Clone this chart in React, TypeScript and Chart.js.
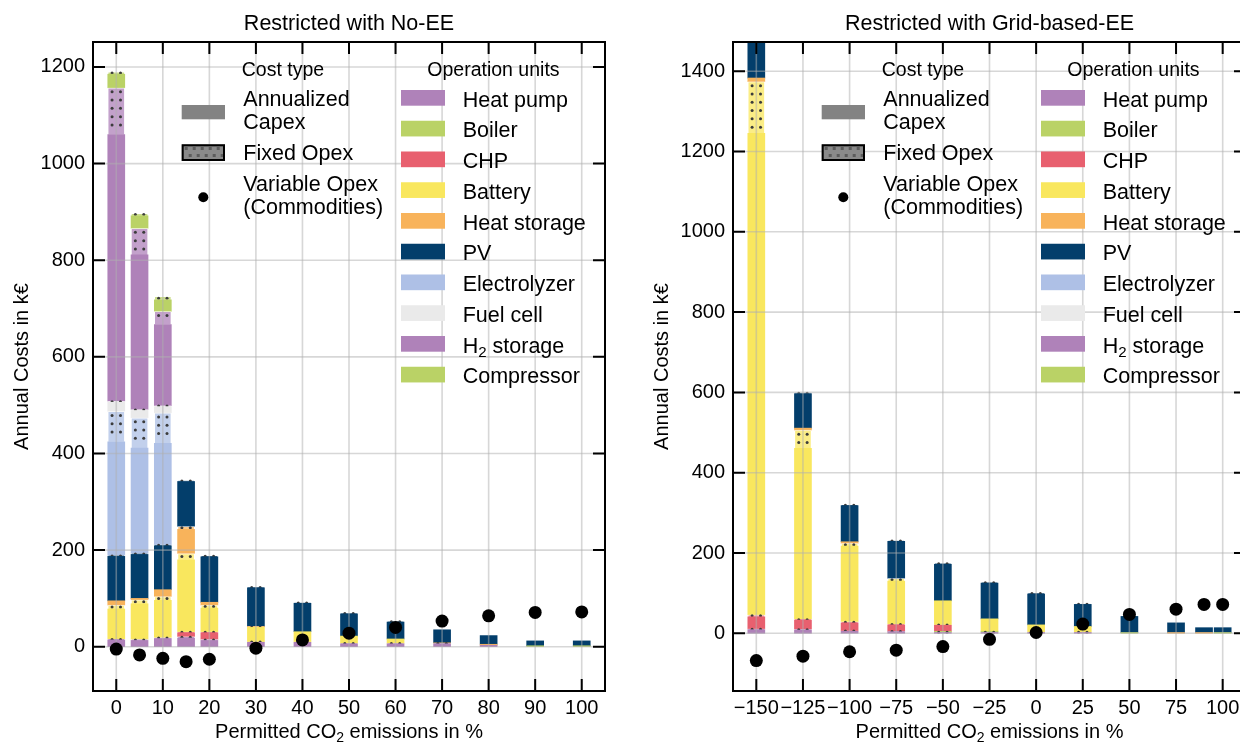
import React, { useEffect, useRef } from 'react';
import { Chart, registerables } from 'chart.js';

Chart.register(...registerables);

const FONT = '"Liberation Sans", Arial, Helvetica, sans-serif';

const UNIT_NAMES = ['Heat pump', 'Boiler', 'CHP', 'Battery', 'Heat storage', 'PV', 'Electrolyzer', 'Fuel cell', 'H2 storage', 'Compressor'];
const UNIT_COLORS = ['#AF82B9', '#BAD266', '#E8606F', '#F9E75E', '#F8B35B', '#033E6B', '#AEC0E6', '#EAEAEA', '#AF82B9', '#BAD266'];

// ---------------- Panel 1: Restricted with No-EE ----------------
const NOEE_X = [0, 5, 10, 15, 20, 30, 40, 50, 60, 70, 80, 90, 100];
const NOEE_X_TICKS = [0, 10, 20, 30, 40, 50, 60, 70, 80, 90, 100];
const NOEE_Y_TICKS = [0, 200, 400, 600, 800, 1000, 1200];
// Annualized Capex (k€)
const NOEE_CAPEX_HEAT_PUMP = [14, 13, 17, 18, 13, 9, 9, 6, 6, 6, 3, 0, 0];
const NOEE_CAPEX_BOILER = [0, 0, 0, 0, 0, 0, 0, 0, 0, 0, 0, 2, 2];
const NOEE_CAPEX_CHP = [0, 0, 0, 8, 14, 0, 0, 0, 0, 0, 0, 0, 0];
const NOEE_CAPEX_BATTERY = [62, 74, 77, 149, 49, 30, 21, 15, 9, 0, 0, 0, 0];
const NOEE_CAPEX_HEAT_STORAGE = [9, 3, 14, 50, 6, 1, 0, 0, 0, 1, 2, 0, 0];
const NOEE_CAPEX_PV = [92, 91, 91, 93, 94, 80, 59, 46, 35, 27, 18, 10, 10];
const NOEE_CAPEX_ELECTROLYZER = [235, 218, 210, 0, 0, 0, 0, 0, 0, 0, 0, 0, 0];
const NOEE_CAPEX_FUEL_CELL = [19, 15, 13, 0, 0, 0, 0, 0, 0, 0, 0, 0, 0];
const NOEE_CAPEX_H2_STORAGE = [552, 320, 168, 0, 0, 0, 0, 0, 0, 0, 0, 0, 0];
const NOEE_CAPEX_COMPRESSOR = [28, 26, 24, 0, 0, 0, 0, 0, 0, 0, 0, 0, 0];
// Fixed Opex (k€)
const NOEE_FIX_HEAT_PUMP = [2, 2, 2, 3, 2, 1, 1, 1, 1, 1, 0, 0, 0];
const NOEE_FIX_BOILER = [0, 0, 0, 0, 0, 0, 0, 0, 0, 0, 0, 0, 0];
const NOEE_FIX_CHP = [0, 0, 0, 2, 2, 0, 0, 0, 0, 0, 0, 0, 0];
const NOEE_FIX_BATTERY = [8, 8, 8, 13, 6, 1, 0, 0, 0, 0, 0, 0, 0];
const NOEE_FIX_HEAT_STORAGE = [0, 0, 0, 6, 0, 0, 0, 0, 0, 0, 0, 0, 0];
const NOEE_FIX_PV = [2, 2, 2, 2, 2, 1, 1, 1, 1, 0, 0, 0, 0];
const NOEE_FIX_ELECTROLYZER = [63, 63, 63, 0, 0, 0, 0, 0, 0, 0, 0, 0, 0];
const NOEE_FIX_FUEL_CELL = [2, 2, 2, 0, 0, 0, 0, 0, 0, 0, 0, 0, 0];
const NOEE_FIX_H2_STORAGE = [97, 55, 27, 0, 0, 0, 0, 0, 0, 0, 0, 0, 0];
const NOEE_FIX_COMPRESSOR = [5, 5, 7, 0, 0, 0, 0, 0, 0, 0, 0, 0, 0];
// Variable Opex (Commodities)
const NOEE_VAR_OPEX = [-5, -17, -24, -31, -26, -3, 14, 28, 40, 53, 64, 71, 72];

// ---------------- Panel 2: Restricted with Grid-based-EE ----------------
const GRID_X = [-150, -125, -100, -75, -50, -25, 0, 25, 50, 75, 90, 100];
const GRID_X_TICKS = [-150, -125, -100, -75, -50, -25, 0, 25, 50, 75, 100];
const GRID_Y_TICKS = [0, 200, 400, 600, 800, 1000, 1200, 1400];
// Annualized Capex (k€)
const GRID_CAPEX_HEAT_PUMP = [9, 8, 5, 4, 2, 2, 2, 2, 0, 0, 0, 0];
const GRID_CAPEX_BOILER = [0, 0, 0, 0, 2, 2, 0, 0, 2, 0, 0, 2];
const GRID_CAPEX_CHP = [30, 23, 20, 16, 15, 0, 0, 0, 0, 0, 0, 0];
const GRID_CAPEX_BATTERY = [1199, 426, 188, 107, 60, 31, 18, 14, 0, 0, 0, 0];
const GRID_CAPEX_HEAT_STORAGE = [9, 5, 4, 0, 0, 0, 0, 0, 0, 2, 2, 0];
const GRID_CAPEX_PV = [110, 86, 90, 92, 91, 89, 77, 55, 40, 24, 12, 12];
const GRID_CAPEX_ELECTROLYZER = [0, 0, 0, 0, 0, 0, 0, 0, 0, 0, 0, 0];
const GRID_CAPEX_FUEL_CELL = [0, 0, 0, 0, 0, 0, 0, 0, 0, 0, 0, 0];
const GRID_CAPEX_H2_STORAGE = [0, 0, 0, 0, 0, 0, 0, 0, 0, 0, 0, 0];
const GRID_CAPEX_COMPRESSOR = [0, 0, 0, 0, 0, 0, 0, 0, 0, 0, 0, 0];
// Fixed Opex (k€)
const GRID_FIX_HEAT_PUMP = [2, 2, 1, 1, 1, 1, 1, 1, 0, 0, 0, 0];
const GRID_FIX_BOILER = [0, 0, 0, 0, 0, 0, 0, 0, 0, 0, 0, 0];
const GRID_FIX_CHP = [5, 2, 3, 2, 1, 0, 0, 0, 0, 0, 0, 0];
const GRID_FIX_BATTERY = [129, 45, 7, 7, 0, 0, 0, 0, 0, 0, 0, 0];
const GRID_FIX_HEAT_STORAGE = [0, 0, 0, 0, 0, 0, 0, 0, 0, 0, 0, 0];
const GRID_FIX_PV = [2, 2, 2, 2, 2, 2, 2, 1, 1, 0, 0, 0];
const GRID_FIX_ELECTROLYZER = [0, 0, 0, 0, 0, 0, 0, 0, 0, 0, 0, 0];
const GRID_FIX_FUEL_CELL = [0, 0, 0, 0, 0, 0, 0, 0, 0, 0, 0, 0];
const GRID_FIX_H2_STORAGE = [0, 0, 0, 0, 0, 0, 0, 0, 0, 0, 0, 0];
const GRID_FIX_COMPRESSOR = [0, 0, 0, 0, 0, 0, 0, 0, 0, 0, 0, 0];
// Variable Opex (Commodities)
const GRID_VAR_OPEX = [-68, -57, -46, -42, -33, -15, 2, 23, 47, 60, 72, 72];

type PanelCfg = {
  key: string;
  title: string;
  xs: number[];
  xTicks: number[];
  yTicks: number[];
  capex: number[][];
  fix: number[][];
  dots: number[];
  xMin: number;
  xMax: number;
  yMin: number;
  yMax: number;
  canvasW: number;
  areaLeft: number;
  areaRight: number;
};

const AREA_TOP = 42;
const AREA_BOTTOM = 691;
const CANVAS_H = 742;

const NOEE_PANEL: PanelCfg = {
  key: 'noee',
  title: 'Restricted with No-EE',
  xs: NOEE_X,
  xTicks: NOEE_X_TICKS,
  yTicks: NOEE_Y_TICKS,
  capex: [NOEE_CAPEX_HEAT_PUMP, NOEE_CAPEX_BOILER, NOEE_CAPEX_CHP, NOEE_CAPEX_BATTERY, NOEE_CAPEX_HEAT_STORAGE, NOEE_CAPEX_PV, NOEE_CAPEX_ELECTROLYZER, NOEE_CAPEX_FUEL_CELL, NOEE_CAPEX_H2_STORAGE, NOEE_CAPEX_COMPRESSOR],
  fix: [NOEE_FIX_HEAT_PUMP, NOEE_FIX_BOILER, NOEE_FIX_CHP, NOEE_FIX_BATTERY, NOEE_FIX_HEAT_STORAGE, NOEE_FIX_PV, NOEE_FIX_ELECTROLYZER, NOEE_FIX_FUEL_CELL, NOEE_FIX_H2_STORAGE, NOEE_FIX_COMPRESSOR],
  dots: NOEE_VAR_OPEX,
  xMin: -5,
  xMax: 105,
  yMin: -91.7,
  yMax: 1251.7,
  canvasW: 620,
  areaLeft: 93,
  areaRight: 605,
};

const GRID_PANEL: PanelCfg = {
  key: 'grid',
  title: 'Restricted with Grid-based-EE',
  xs: GRID_X,
  xTicks: GRID_X_TICKS,
  yTicks: GRID_Y_TICKS,
  capex: [GRID_CAPEX_HEAT_PUMP, GRID_CAPEX_BOILER, GRID_CAPEX_CHP, GRID_CAPEX_BATTERY, GRID_CAPEX_HEAT_STORAGE, GRID_CAPEX_PV, GRID_CAPEX_ELECTROLYZER, GRID_CAPEX_FUEL_CELL, GRID_CAPEX_H2_STORAGE, GRID_CAPEX_COMPRESSOR],
  fix: [GRID_FIX_HEAT_PUMP, GRID_FIX_BOILER, GRID_FIX_CHP, GRID_FIX_BATTERY, GRID_FIX_HEAT_STORAGE, GRID_FIX_PV, GRID_FIX_ELECTROLYZER, GRID_FIX_FUEL_CELL, GRID_FIX_H2_STORAGE, GRID_FIX_COMPRESSOR],
  dots: GRID_VAR_OPEX,
  xMin: -162.5,
  xMax: 112.5,
  yMin: -143.7,
  yMax: 1472.7,
  canvasW: 640,
  areaLeft: 113,
  areaRight: 626,
};

function mix(hex: string, f: number) {
  const n = parseInt(hex.slice(1), 16);
  const r = (n >> 16) & 255, g = (n >> 8) & 255, b = n & 255;
  const m = (c: number) => Math.round(c + (255 - c) * f);
  return `rgb(${m(r)},${m(g)},${m(b)})`;
}

function fmtTick(v: number) {
  return v < 0 ? '\u2212' + Math.abs(v) : String(v);
}

function drawParts(ctx: CanvasRenderingContext2D, parts: { t: string; sub?: boolean }[], x: number, y: number, size: number, align: 'left' | 'center') {
  const widths = parts.map((p) => {
    ctx.font = `${p.sub ? size * 0.7 : size}px ${FONT}`;
    return ctx.measureText(p.t).width;
  });
  const total = widths.reduce((a, b) => a + b, 0);
  let cx = align === 'center' ? x - total / 2 : x;
  ctx.textAlign = 'left';
  ctx.textBaseline = 'alphabetic';
  parts.forEach((p, i) => {
    ctx.font = `${p.sub ? size * 0.7 : size}px ${FONT}`;
    ctx.fillText(p.t, cx, p.sub ? y + size * 0.22 : y);
    cx += widths[i];
  });
}

function makePlugin(p: PanelCfg, dotIndex: number) {
  return {
    id: 'custom_' + p.key,
    afterDatasetDraw(chart: any, args: any) {
      const ds = chart.data.datasets[args.index];
      if (!ds.isFix) return;
      const ctx: CanvasRenderingContext2D = chart.ctx;
      const a = chart.chartArea;
      ctx.save();
      ctx.beginPath();
      ctx.rect(a.left, a.top, a.right - a.left, a.bottom - a.top);
      ctx.clip();
      ctx.fillStyle = '#3c3c3c';
      args.meta.data.forEach((el: any, i: number) => {
        if (ds.data[i].y == null) return;
        const top = Math.min(el.y, el.base);
        const bot = Math.max(el.y, el.base);
        const h = bot - top;
        const rows: number[] = [];
        if (h < 8) rows.push(top + h / 2);
        else for (let yy = top + 4; yy < bot - 2; yy += 8.3) rows.push(yy);
        rows.forEach((yy) => {
          [el.x - 4.2, el.x + 4.2].forEach((xx) => {
            ctx.beginPath();
            ctx.arc(xx, yy, 1.5, 0, Math.PI * 2);
            ctx.fill();
          });
        });
      });
      ctx.restore();
    },
    beforeDatasetDraw(chart: any, args: any) {
      if (args.index !== dotIndex) return;
      const ctx: CanvasRenderingContext2D = chart.ctx;
      const a = chart.chartArea;
      const xs = chart.scales.x, ys = chart.scales.y;
      ctx.save();
      ctx.beginPath();
      ctx.rect(a.left, a.top, a.right - a.left, a.bottom - a.top);
      ctx.clip();
      ctx.strokeStyle = 'rgba(176,176,176,0.5)';
      ctx.lineWidth = 1.6;
      p.xTicks.forEach((v) => {
        const px = xs.getPixelForValue(v);
        ctx.beginPath();
        ctx.moveTo(px, a.top);
        ctx.lineTo(px, a.bottom);
        ctx.stroke();
      });
      p.yTicks.forEach((v) => {
        const py = ys.getPixelForValue(v);
        ctx.beginPath();
        ctx.moveTo(a.left, py);
        ctx.lineTo(a.right, py);
        ctx.stroke();
      });
      ctx.restore();
    },
    afterDraw(chart: any) {
      const ctx: CanvasRenderingContext2D = chart.ctx;
      const a = chart.chartArea;
      const xs = chart.scales.x, ys = chart.scales.y;
      ctx.save();
      // spines
      ctx.strokeStyle = '#000';
      ctx.lineWidth = 2;
      ctx.strokeRect(a.left, a.top, a.right - a.left, a.bottom - a.top);
      // inward ticks on all four sides
      p.xTicks.forEach((v) => {
        const px = xs.getPixelForValue(v);
        ctx.beginPath();
        ctx.moveTo(px, a.bottom);
        ctx.lineTo(px, a.bottom - 12);
        ctx.moveTo(px, a.top);
        ctx.lineTo(px, a.top + 12);
        ctx.stroke();
      });
      p.yTicks.forEach((v) => {
        const py = ys.getPixelForValue(v);
        ctx.beginPath();
        ctx.moveTo(a.left, py);
        ctx.lineTo(a.left + 12, py);
        ctx.moveTo(a.right, py);
        ctx.lineTo(a.right - 12, py);
        ctx.stroke();
      });
      ctx.fillStyle = '#000';
      const cx = (a.left + a.right) / 2;
      // title
      drawParts(ctx, [{ t: p.title }], cx, 30, 21.5, 'center');
      // x label
      drawParts(ctx, [{ t: 'Permitted CO' }, { t: '2', sub: true }, { t: ' emissions in %' }], cx, 738, 20, 'center');
      // y label
      ctx.save();
      ctx.translate(a.left - 71, (a.top + a.bottom) / 2);
      ctx.rotate(-Math.PI / 2);
      ctx.font = `20px ${FONT}`;
      ctx.textAlign = 'center';
      ctx.textBaseline = 'middle';
      ctx.fillText('Annual Costs in k\u20AC', 0, 0);
      ctx.restore();

      // ---------- legend ----------
      const L = a.left;
      ctx.fillStyle = '#000';
      drawParts(ctx, [{ t: 'Cost type' }], L + 148.7, 75.7, 19.5, 'left');
      drawParts(ctx, [{ t: 'Operation units' }], L + 334.3, 75.7, 19.5, 'left');
      // Annualized Capex
      ctx.fillStyle = '#838383';
      ctx.fillRect(L + 88.7, 105, 43.3, 14.3);
      ctx.fillStyle = '#000';
      drawParts(ctx, [{ t: 'Annualized' }], L + 150.3, 106, 21.5, 'left');
      drawParts(ctx, [{ t: 'Capex' }], L + 150.3, 129, 21.5, 'left');
      // Fixed Opex
      ctx.fillStyle = '#8a8a8a';
      ctx.fillRect(L + 88.7, 144.3, 43.3, 16.7);
      ctx.fillStyle = '#5c5c5c';
      for (let dx = 3; dx < 42; dx += 8) {
        ctx.fillRect(L + 88.7 + dx, 147, 3, 3);
        ctx.fillRect(L + 88.7 + dx + 4, 154, 3, 3);
      }
      ctx.strokeStyle = '#000';
      ctx.lineWidth = 2;
      ctx.strokeRect(L + 89.7, 145.3, 41.3, 14.7);
      ctx.fillStyle = '#000';
      drawParts(ctx, [{ t: 'Fixed Opex' }], L + 150.3, 160, 21.5, 'left');
      // Variable Opex
      ctx.beginPath();
      ctx.arc(L + 110.3, 197.3, 5, 0, Math.PI * 2);
      ctx.fill();
      drawParts(ctx, [{ t: 'Variable Opex' }], L + 150.3, 191, 21.5, 'left');
      drawParts(ctx, [{ t: '(Commodities)' }], L + 150.3, 214.3, 21.5, 'left');
      // Operation units
      UNIT_NAMES.forEach((name, i) => {
        const base = 106.7 + 30.75 * i;
        ctx.fillStyle = UNIT_COLORS[i];
        ctx.fillRect(L + 308, base - 16.7, 44, 15.7);
        ctx.fillStyle = '#000';
        if (name === 'H2 storage') {
          drawParts(ctx, [{ t: 'H' }, { t: '2', sub: true }, { t: ' storage' }], L + 369.7, base, 21.5, 'left');
        } else {
          drawParts(ctx, [{ t: name }], L + 369.7, base, 21.5, 'left');
        }
      });
      ctx.restore();
    },
  };
}

function buildChart(canvas: HTMLCanvasElement, p: PanelCfg) {
  const datasets: any[] = [];
  UNIT_NAMES.forEach((name, u) => {
    datasets.push({
      type: 'bar',
      label: name + ' (Annualized Capex)',
      data: p.xs.map((x, i) => ({ x, y: p.capex[u][i] ? p.capex[u][i] : null })),
      backgroundColor: UNIT_COLORS[u],
      borderWidth: 0,
      barThickness: 17,
      order: 1,
    });
    datasets.push({
      type: 'bar',
      label: name + ' (Fixed Opex)',
      data: p.xs.map((x, i) => ({ x, y: p.fix[u][i] ? p.fix[u][i] : null })),
      backgroundColor: mix(UNIT_COLORS[u], 0.25),
      borderColor: 'rgba(255,255,255,0.45)',
      borderWidth: 1,
      barThickness: 17,
      order: 1,
      isFix: true,
    });
  });
  const dotIndex = datasets.length;
  datasets.push({
    type: 'scatter',
    label: 'Variable Opex (Commodities)',
    data: p.xs.map((x, i) => ({ x, y: p.dots[i] })),
    backgroundColor: '#000',
    borderColor: '#000',
    borderWidth: 0,
    pointRadius: 6.5,
    order: 0,
  });

  const tickFont = { family: FONT, size: 20 };
  return new Chart(canvas, {
    type: 'bar',
    data: { datasets },
    options: {
      responsive: false,
      animation: false,
      devicePixelRatio: 1,
      layout: { padding: { left: 0, top: AREA_TOP, right: p.canvasW - p.areaRight, bottom: 0 } },
      plugins: {
        legend: { display: false },
        tooltip: { enabled: false },
        title: { display: false },
      },
      scales: {
        x: {
          type: 'linear',
          position: 'bottom',
          min: p.xMin,
          max: p.xMax,
          stacked: true,
          offset: false,
          grid: { display: false, drawTicks: false },
          border: { display: false },
          ticks: {
            font: tickFont,
            color: '#000',
            padding: 5,
            maxRotation: 0,
            autoSkip: false,
            callback: (v: any) => fmtTick(Number(v)),
          },
          afterBuildTicks: (s: any) => {
            s.ticks = p.xTicks.map((v) => ({ value: v }));
          },
          afterFit: (s: any) => {
            s.height = CANVAS_H - AREA_BOTTOM;
          },
        },
        y: {
          type: 'linear',
          position: 'left',
          min: p.yMin,
          max: p.yMax,
          stacked: true,
          grid: { display: false, drawTicks: false },
          border: { display: false },
          ticks: {
            font: tickFont,
            color: '#000',
            padding: 8,
            callback: (v: any) => fmtTick(Number(v)),
          },
          afterBuildTicks: (s: any) => {
            s.ticks = p.yTicks.map((v) => ({ value: v }));
          },
          afterFit: (s: any) => {
            s.width = p.areaLeft;
          },
        },
      },
    } as any,
    plugins: [makePlugin(p, dotIndex) as any],
  });
}

function Panel({ p, left }: { p: PanelCfg; left: number }) {
  const ref = useRef<HTMLCanvasElement>(null);
  useEffect(() => {
    if (!ref.current) return;
    const chart = buildChart(ref.current, p);
    return () => chart.destroy();
  }, [p]);
  return (
    <div style={{ position: 'absolute', left, top: 0, width: 620, height: CANVAS_H, overflow: 'hidden' }}>
      <canvas ref={ref} width={p.canvasW} height={CANVAS_H} style={{ display: 'block', width: p.canvasW, height: CANVAS_H }} />
    </div>
  );
}

export default function App() {
  return (
    <div style={{ position: 'fixed', left: 0, top: 0, width: 1240, height: CANVAS_H, background: '#fff', overflow: 'hidden' }}>
      <Panel p={NOEE_PANEL} left={0} />
      <Panel p={GRID_PANEL} left={620} />
    </div>
  );
}
